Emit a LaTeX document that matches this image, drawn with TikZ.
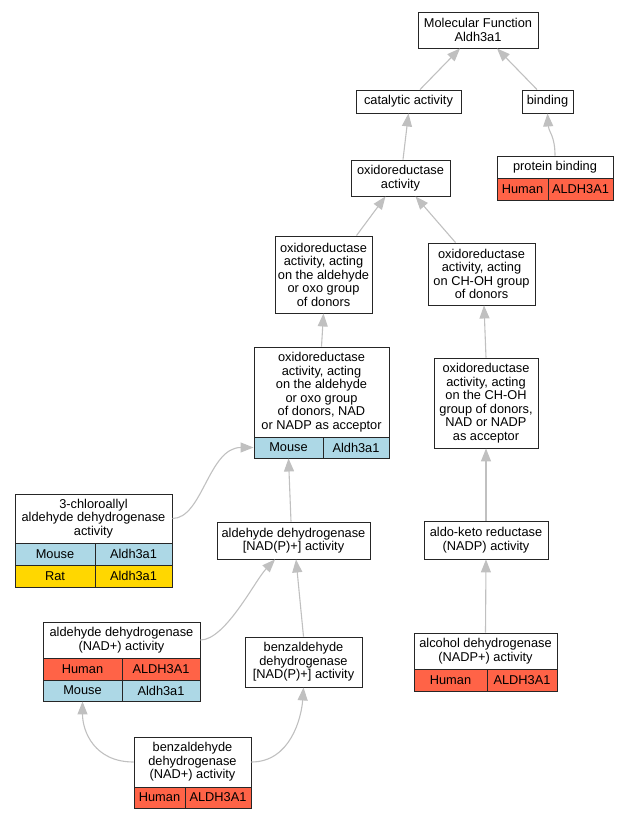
\documentclass[tikz,border=0pt]{standalone}
\usepackage{fontspec}
\setmainfont{Liberation Sans}
\usetikzlibrary{arrows.meta}
\definecolor{human}{HTML}{FF6347}
\definecolor{mouse}{HTML}{ADD8E6}
\definecolor{rat}{HTML}{FFD700}
\definecolor{edgegray}{HTML}{C0C0C0}
\def\termnode[#1]{\node[box,#1]}
\def\drawedge{\draw[edge]}
\tikzset{
  box/.style={draw=black!85, line width=0.9pt, fill=white, align=center, inner sep=0pt, font=\fontsize{12.8}{13.5}\selectfont},
  humancell/.style={fill=human},
  mousecell/.style={fill=mouse},
  ratcell/.style={fill=rat},
  edge/.style={draw=edgegray, line width=1.1pt, -{Triangle[length=13pt,width=10pt]}},
}

\begin{document}
\begin{tikzpicture}[x=1pt,y=-1pt]
\useasboundingbox (0,0) rectangle (628,819);
\termnode[minimum width=120pt,minimum height=36pt] (mf) at (478,30) {Molecular Function\\Aldh3a1};
\termnode[minimum width=105pt,minimum height=23pt] (cat) at (408.5,101.5) {catalytic activity};
\termnode[minimum width=51pt,minimum height=23pt] (bind) at (547.5,101.5) {binding};
\termnode[minimum width=116pt,minimum height=22pt] (pbind) at (555,167) {protein binding};
\termnode[humancell,minimum width=51pt,minimum height=22pt] (pbindh) at (522.5,189) {Human};
\termnode[humancell,minimum width=65pt,minimum height=22pt] (pbindg) at (580.5,189) {ALDH3A1};
\termnode[minimum width=99pt,minimum height=36pt] (oxa) at (400.5,178) {oxidoreductase\\activity};
\termnode[minimum width=97pt,minimum height=77pt] (oxald) at (323.5,274.5) {oxidoreductase\\activity, acting\\on the aldehyde\\or oxo group\\of donors};
\termnode[minimum width=107pt,minimum height=62pt] (oxch) at (481.5,274) {oxidoreductase\\activity, acting\\on CH-OH group\\of donors};
\termnode[minimum width=135pt,minimum height=90pt] (oxnad) at (321.5,392) {oxidoreductase\\activity, acting\\on the aldehyde\\or oxo group\\of donors, NAD\\or NADP as acceptor};
\termnode[mousecell,minimum width=69pt,minimum height=21pt] (oxnadm) at (288.5,447.5) {Mouse};
\termnode[mousecell,minimum width=66pt,minimum height=21pt] (oxnadg) at (356,447.5) {Aldh3a1};
\termnode[minimum width=104pt,minimum height=90pt] (oxchnad) at (486,403) {oxidoreductase\\activity, acting\\on the CH-OH\\group of donors,\\NAD or NADP\\as acceptor};
\termnode[minimum width=157pt,minimum height=49pt] (chloro) at (93.5,518.5) {3-chloroallyl\\aldehyde dehydrogenase\\activity};
\termnode[mousecell,minimum width=80pt,minimum height=22pt] (chlorom) at (55,554) {Mouse};
\termnode[mousecell,minimum width=77pt,minimum height=22pt] (chloromg) at (133.5,554) {Aldh3a1};
\termnode[ratcell,minimum width=80pt,minimum height=22pt] (chloror) at (55,576) {Rat};
\termnode[ratcell,minimum width=77pt,minimum height=22pt] (chlororg) at (133.5,576) {Aldh3a1};
\termnode[minimum width=153pt,minimum height=37pt] (aldp) at (293.5,540.5) {aldehyde dehydrogenase\\{[NAD(P)+]} activity};
\termnode[minimum width=124pt,minimum height=38pt] (akr) at (486,540) {aldo-keto reductase\\(NADP) activity};
\termnode[minimum width=157pt,minimum height=36pt] (aldn) at (121.5,640) {aldehyde dehydrogenase\\(NAD+) activity};
\termnode[humancell,minimum width=79pt,minimum height=22pt] (aldnh) at (82.5,669) {Human};
\termnode[humancell,minimum width=78pt,minimum height=22pt] (aldnhg) at (161,669) {ALDH3A1};
\termnode[mousecell,minimum width=79pt,minimum height=21pt] (aldnm) at (82.5,690.5) {Mouse};
\termnode[mousecell,minimum width=78pt,minimum height=21pt] (aldnmg) at (161,690.5) {Aldh3a1};
\termnode[minimum width=117pt,minimum height=50pt] (benzp) at (303.5,662) {benzaldehyde\\dehydrogenase\\{[NAD(P)+]} activity};
\termnode[minimum width=117pt,minimum height=50pt] (benzn) at (192.5,762) {benzaldehyde\\dehydrogenase\\(NAD+) activity};
\termnode[humancell,minimum width=51pt,minimum height=21pt] (benznh) at (159.5,797.5) {Human};
\termnode[humancell,minimum width=66pt,minimum height=21pt] (benznhg) at (218,797.5) {ALDH3A1};
\termnode[minimum width=143pt,minimum height=36pt] (alc) at (485.5,651) {alcohol dehydrogenase\\(NADP+) activity};
\termnode[humancell,minimum width=73pt,minimum height=22pt] (alch) at (450.5,680) {Human};
\termnode[humancell,minimum width=70pt,minimum height=22pt] (alchg) at (522,680) {ALDH3A1};
\drawedge ([xshift=11.5pt]cat.north) -- ([xshift=-18pt]mf.south);
\drawedge ([xshift=-10.5pt]bind.north) -- ([xshift=19pt]mf.south);
\drawedge (pbind.north) .. controls +(0,-20) and +(1,18) .. (bind.south);
\drawedge ([xshift=2.5pt]oxa.north) -- (cat.south);
\drawedge ([xshift=33pt]oxald.north) -- ([xshift=-15pt]oxa.south);
\drawedge ([xshift=-26pt]oxch.north) -- ([xshift=15pt]oxa.south);
\drawedge (oxnad.north) -- (oxald.south);
\drawedge (oxchnad.north) -- ([xshift=2.5pt]oxch.south);
\drawedge (chloro.east) .. controls +(30,0) and +(-45,0) .. (oxnadm.west);
\drawedge ([xshift=-2.5pt]aldp.north) -- (oxnadm.south);
\drawedge (akr.north) -- (oxchnad.south);
\drawedge (aldn.east) .. controls +(25,0) and +(-20,21) .. ([xshift=-18.5pt]aldp.south);
\drawedge (benzp.north) -- ([xshift=2.5pt]aldp.south);
\drawedge (alc.north) -- (akr.south);
\drawedge (benzn.west) .. controls +(-39,0) and +(0,30) .. (aldnm.south);
\drawedge (benzn.east) .. controls +(39,0) and +(-2,30) .. (benzp.south);
\end{tikzpicture}
\end{document}
